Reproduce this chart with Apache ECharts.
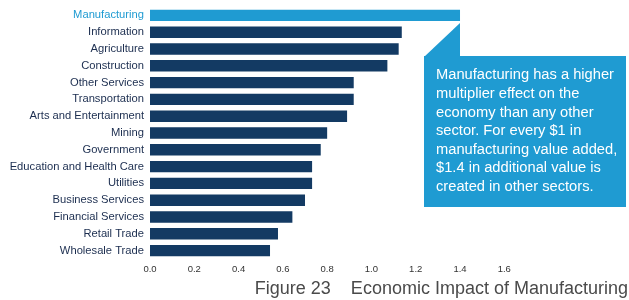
<!DOCTYPE html>
<html><head><meta charset="utf-8">
<script src="https://cdn.jsdelivr.net/npm/echarts@6/dist/echarts.min.js"></script>
<style>html,body{margin:0;padding:0;background:#fff}#c{width:629px;height:300px}</style>
</head><body><div id="c"></div>
<script>
var categories = ['Manufacturing','Information','Agriculture','Construction','Other Services','Transportation','Arts and Entertainment','Mining','Government','Education and Health Care','Utilities','Business Services','Financial Services','Retail Trade','Wholesale Trade'];
var values = [1.40,1.137,1.123,1.072,0.92,0.92,0.89,0.80,0.771,0.732,0.732,0.70,0.643,0.578,0.542];
var xTicks = [0.0,0.2,0.4,0.6,0.8,1.0,1.2,1.4,1.6];
var highlight = 'Manufacturing';
var calloutText = 'Manufacturing has a higher\nmultiplier effect on the\neconomy than any other\nsector. For every $1 in\nmanufacturing value added,\n$1.4 in additional value is\ncreated in other sectors.';
var figureLabel = 'Figure 23';
var figureTitle = 'Economic Impact of Manufacturing';

var NAVY = '#133a63', BLUE = '#1f9bd2';
var FONT = '"Liberation Sans", Arial, Helvetica, sans-serif';
var chart = echarts.init(document.getElementById('c'));
var option = {
  animation: false,
  title: {
    text: figureLabel + '{g| }' + figureTitle,
    right: 1, bottom: 2, padding: 0,
    textStyle: { fontFamily: FONT, fontWeight: 'normal', fontSize: 18, color: '#4a4a4a', rich: { g: { width: 20 } } }
  },
  grid: { left: 150, top: 7, width: 354.3, height: 252, containLabel: false },
  xAxis: {
    type: 'value', min: xTicks[0], max: xTicks[xTicks.length-1], interval: 0.2,
    axisLine: { show: false }, axisTick: { show: false }, splitLine: { show: false },
    axisLabel: { margin: 5, fontSize: 9.5, color: '#333', fontFamily: FONT, formatter: function(v){ return v.toFixed(1); } }
  },
  yAxis: {
    type: 'category', data: categories, inverse: true,
    axisLine: { show: false }, axisTick: { show: false },
    axisLabel: { margin: 6, fontSize: 11.2, fontFamily: FONT,
      color: function(v){ return v === highlight ? BLUE : '#1b2d4f'; } }
  },
  series: [{
    type: 'bar', barWidth: '68%',
    data: values.map(function(v, i){ return { value: v, itemStyle: { color: categories[i] === highlight ? BLUE : NAVY } }; })
  }]
};
chart.setOption(option);

var tip = chart.convertToPixel({ gridIndex: 0 }, [values[0], 0]);
var barBottom = tip[1] + 16.8 * 0.34 + 2;
var boxLeft = 424, boxTop = 56, boxRight = 626, boxBottom = 207;
chart.setOption({
  graphic: [
    { type: 'polygon', shape: { points: [[tip[0], barBottom], [tip[0], boxTop + 1], [boxLeft, boxTop + 1]] }, style: { fill: BLUE } },
    { type: 'rect', shape: { x: boxLeft, y: boxTop, width: boxRight - boxLeft, height: boxBottom - boxTop }, style: { fill: BLUE } },
    { type: 'text', left: 436, top: 66, style: { text: calloutText, fill: '#fff', fontSize: 14.7, lineHeight: 18.6, fontFamily: FONT } }
  ]
});
</script></body></html>
